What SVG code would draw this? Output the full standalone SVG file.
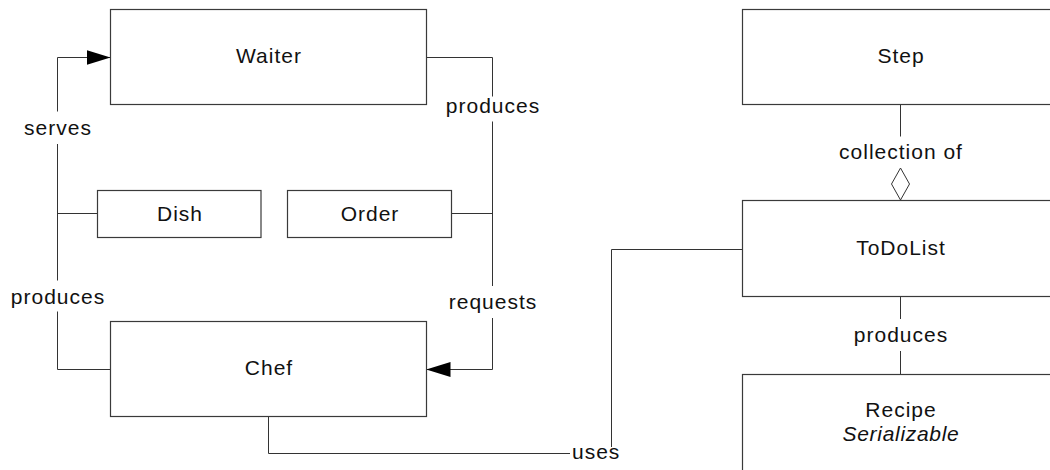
<svg xmlns="http://www.w3.org/2000/svg" width="1050" height="470" viewBox="0 0 1050 470">
  <style>
    .box { fill: #ffffff; stroke: #3a3a3a; stroke-width: 1.2; }
    .wire { fill: none; stroke: #333333; stroke-width: 1; }
    .label { font-family: "Liberation Sans", Arial, sans-serif; font-size: 21px; letter-spacing: 1px; fill: #111111; }
    .mid { text-anchor: middle; }
    .ital { font-style: italic; }
  </style>
  <defs>
    <marker id="arrowFilled" markerUnits="userSpaceOnUse" markerWidth="24" markerHeight="16" refX="24" refY="8" orient="auto">
      <polygon points="0,0.5 24,8 0,15.5" fill="#000000"/>
    </marker>
  </defs>

  <rect width="1050" height="470" fill="#ffffff"/>

  <!-- connectors -->
  <g id="connectors">
    <!-- Dish / Waiter / Chef (left rail) -->
    <path class="wire" d="M57.5,111.5 V57.5 H110.5" marker-end="url(#arrowFilled)"/>
    <path class="wire" d="M57.5,144 V280.5"/>
    <path class="wire" d="M57.5,311.5 V369.5 H110.5"/>
    <path class="wire" d="M57.5,213.5 H97.5"/>
    <text class="label mid" x="58" y="135">serves</text>
    <text class="label mid" x="58" y="304">produces</text>

    <!-- Order / Waiter / Chef (right rail) -->
    <path class="wire" d="M426.5,57.5 H492.5 V96.5"/>
    <path class="wire" d="M492.5,121.5 V286"/>
    <path class="wire" d="M492.5,318 V369.5 H426.5" marker-end="url(#arrowFilled)"/>
    <path class="wire" d="M451.5,213.5 H492.5"/>
    <text class="label mid" x="493" y="112.5">produces</text>
    <text class="label mid" x="493" y="309">requests</text>

    <!-- Step aggregated into ToDoList -->
    <path class="wire" d="M900.5,104.5 V136.5"/>
    <polygon class="wire" points="900.5,168 909.5,184 900.5,200 891.5,184" fill="#ffffff"/>
    <text class="label mid" x="901" y="158.5">collection of</text>

    <!-- ToDoList produces Recipe -->
    <path class="wire" d="M900.5,296.5 V319"/>
    <path class="wire" d="M900.5,351 V374.5"/>
    <text class="label mid" x="901" y="341.5">produces</text>

    <!-- Chef uses ToDoList -->
    <path class="wire" d="M268.5,416.5 V453.5 H570"/>
    <path class="wire" d="M742.5,249.5 H611.5 V447"/>
    <text class="label" x="572" y="458.5">uses</text>
  </g>

  <g id="waiter">
    <rect class="box" x="110.5" y="9.5" width="316" height="95"/>
    <text class="label mid" x="269" y="63">Waiter</text>
  </g>

  <g id="dish">
    <rect class="box" x="97.5" y="190.5" width="163.5" height="47"/>
    <text class="label mid" x="180" y="221">Dish</text>
  </g>

  <g id="order">
    <rect class="box" x="287.5" y="190.5" width="164" height="47"/>
    <text class="label mid" x="370" y="221">Order</text>
  </g>

  <g id="chef">
    <rect class="box" x="110.5" y="321.5" width="316" height="95"/>
    <text class="label mid" x="269" y="375">Chef</text>
  </g>

  <g id="step">
    <rect class="box" x="742.5" y="9.5" width="316" height="95"/>
    <text class="label mid" x="901" y="63">Step</text>
  </g>

  <g id="todolist">
    <rect class="box" x="742.5" y="200.5" width="316" height="96"/>
    <text class="label mid" x="901" y="255">ToDoList</text>
  </g>

  <g id="recipe">
    <rect class="box" x="742.5" y="374.5" width="316" height="100"/>
    <text class="label mid" x="901" y="416.5">Recipe</text>
    <text class="label mid ital" x="901" y="441" style="letter-spacing:0.7px">Serializable</text>
  </g>
</svg>
